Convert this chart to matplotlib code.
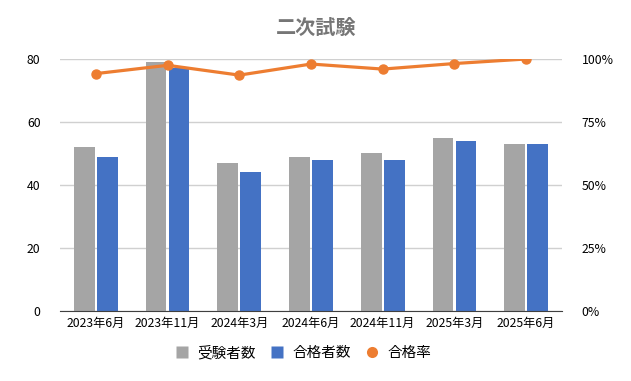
import matplotlib
matplotlib.use("Agg")
import matplotlib.pyplot as plt
import numpy as np
from matplotlib.ticker import FuncFormatter
from matplotlib.lines import Line2D

plt.rcParams['font.family'] = ['Noto Sans CJK JP', 'DejaVu Sans']

categories = ["2023年6月", "2023年11月", "2024年3月", "2024年6月", "2024年11月", "2025年3月", "2025年6月"]
examinees = [52, 79, 47, 49, 50, 55, 53]
passers = [49, 77, 44, 48, 48, 54, 53]
pass_rate = [94.2, 97.5, 93.6, 98.0, 96.0, 98.2, 100.0]

fig = plt.figure(figsize=(6.31, 3.81), dpi=100)
ax = fig.add_axes([60/631, 1-311/381, 502/631, 252/381])
x = np.arange(len(categories))
w = 0.29
off = 0.16
ax.bar(x - off, examinees, w, color='#A5A5A5', label='受験者数', zorder=2)
ax.bar(x + off, passers, w, color='#4472C4', label='合格者数', zorder=2)
ax.set_xlim(-0.5, len(categories) - 0.5)
ax.set_ylim(0, 80)
ax.set_yticks([0, 20, 40, 60, 80])
ax.grid(axis='y', color='#D0D0D0', linewidth=1, zorder=0)
ax.set_xticks(x)
ax.set_xticklabels(categories, fontsize=8.8)
ax.tick_params(axis='both', length=0, labelsize=8.8, colors='#000000')
ax.tick_params(axis='y', pad=14)
ax.tick_params(axis='x', pad=4)
for s in ['top', 'right', 'left']:
    ax.spines[s].set_visible(False)
ax.spines['bottom'].set_color('#404040')

ax2 = ax.twinx()
ax2.plot(x, pass_rate, color='#ED7D31', linewidth=2.3, marker='o', markersize=6.5, label='合格率', zorder=3)
ax2.set_ylim(0, 100)
ax2.set_yticks([0, 25, 50, 75, 100])
ax2.yaxis.set_major_formatter(FuncFormatter(lambda v, p: f"{int(v)}%"))
ax2.tick_params(axis='y', length=0, labelsize=8.8, pad=14)
for s in ['top', 'right', 'left', 'bottom']:
    ax2.spines[s].set_visible(False)

fig.text(316/631, 1-27/381, "二次試験", ha='center', va='center', fontsize=14.5, fontweight='bold', color='#767676')

handles = [Line2D([], [], marker='s', color='none', markerfacecolor='#A5A5A5', markeredgecolor='none', markersize=8),
           Line2D([], [], marker='s', color='none', markerfacecolor='#4472C4', markeredgecolor='none', markersize=8),
           Line2D([], [], marker='o', color='none', markerfacecolor='#ED7D31', markeredgecolor='none', markersize=8)]
fig.legend(handles, ['受験者数', '合格者数', '合格率'], loc='center', bbox_to_anchor=(303/631, 1-353/381),
           ncol=3, frameon=False, fontsize=10.5, handletextpad=0.55, columnspacing=0.95, handlelength=1.0)

fig.savefig("out.png", dpi=100)
